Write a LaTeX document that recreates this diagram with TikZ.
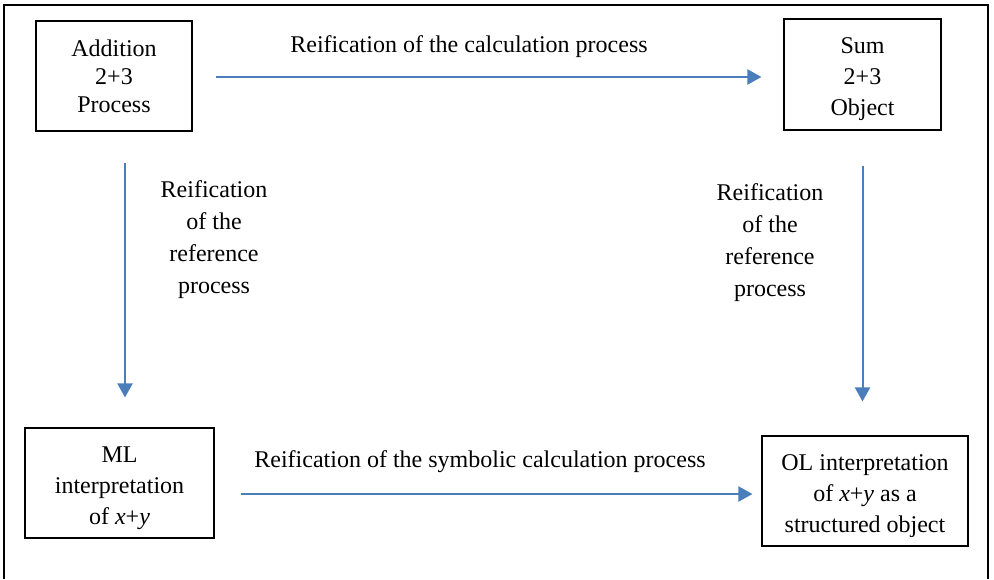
\documentclass[tikz,border=0pt]{standalone}
\usepackage{fontspec}
\setmainfont{Liberation Serif}
\usepackage{tikz}
\usetikzlibrary{arrows.meta}
\definecolor{arrowblue}{RGB}{74,126,187}

\begin{document}
\begin{tikzpicture}[x=0.5pt,y=-0.5pt,font=\fontsize{12}{14}\selectfont]
      \tikzstyle{box}=[draw,line width=0.55pt,align=center,inner sep=0pt]
      \tikzstyle{wide}=[font=\fontsize{12}{15.5}\selectfont]
      \tikzstyle{reif}=[align=center,inner sep=0pt,font=\fontsize{12}{16}\selectfont]
      \tikzstyle{flow}=[draw=arrowblue,line width=1pt,-{Triangle[length=7pt,width=7.5pt]},arrowblue]

      \useasboundingbox (0,0) rectangle (994,579);
      \draw[line width=1pt] (4,579) -- (4,5) -- (988,5) -- (988,579);

      \node[box,minimum width=78pt,minimum height=55pt] (add) at (114,76) {Addition\\2+3\\Process};
      \node[box,wide,minimum width=78.5pt,minimum height=55.5pt] (sum) at (862.5,74.5) {\rule{0pt}{13pt}Sum\\2+3\\Object};
      \node[box,wide,minimum width=94.5pt,minimum height=55pt] (ml) at (119.5,483) {\rule{0pt}{13.5pt}ML\\interpretation\\of \textit{x}+\textit{y}};
      \node[box,wide,minimum width=103pt,minimum height=55pt] (ol) at (865,491) {\rule{0pt}{13pt}OL interpretation\\of \textit{x}+\textit{y} as a\\structured object};

      \node[reif] (calc) at (469,47) {Reification of the calculation process};
      \node[reif] (refl) at (214,240) {Reification\\of the\\reference\\process};
      \node[reif] (refr) at (770,243) {Reification\\of the\\reference\\process};
      \node[reif] (symb) at (480,462) {Reification of the symbolic calculation process};

      \draw[flow,shorten <=11.5pt,shorten >=11pt] ([yshift=-0.5pt]add.east) -- ([yshift=-0.5pt]add.east -| sum.west);
      \draw[flow,shorten <=15.5pt,shorten >=15pt] ([xshift=5.5pt]add.south) -- ([xshift=5.5pt]add.south |- ml.north);
      \draw[flow,shorten <=17.5pt,shorten >=17pt] (sum.south) -- (sum.south |- ol.north);
      \draw[flow,shorten <=13pt,shorten >=4.5pt] ([yshift=-5.5pt]ml.east) -- ([yshift=-5.5pt]ml.east -| ol.west);

    \end{tikzpicture}
\end{document}
